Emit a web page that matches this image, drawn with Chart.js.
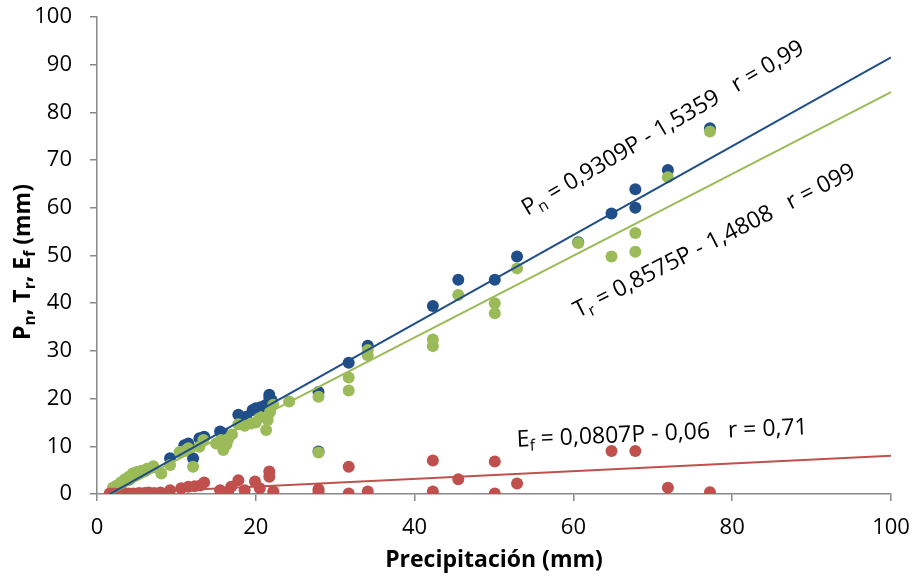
<!DOCTYPE html>
<html><head><meta charset="utf-8">
<script src="https://cdn.jsdelivr.net/npm/chart.js@4.4.1/dist/chart.umd.min.js"></script>
<style>html,body{margin:0;padding:0;background:#fff;}#wrap{width:917px;height:579px;}</style>
</head><body><div id="wrap"><canvas id="c" width="917" height="579"></canvas></div>
<script>
// ---- data ----
const pnPrecip = [77.2, 71.9, 67.8, 67.8, 64.8, 60.6, 52.9, 50.1, 45.5, 42.3, 34.1, 31.7, 27.9, 27.9, 22.0, 21.7, 21.7, 21.2, 20.6, 20.0, 19.6, 18.8, 17.8, 16.0, 15.5, 13.5, 12.9, 12.1, 11.5, 11.0, 9.2, 7.0, 6.0, 5.0, 4.0, 3.0, 2.2];
const pnValues = [76.7, 67.9, 63.9, 60.0, 58.8, 52.8, 49.8, 44.9, 44.9, 39.4, 31.1, 27.5, 21.4, 8.9, 19.6, 20.8, 20.2, 18.6, 18.2, 18.0, 17.6, 16.2, 16.6, 12.6, 13.1, 12.0, 11.7, 7.5, 10.6, 10.2, 7.5, 5.6, 4.8, 4.1, 3.0, 2.0, 1.0];

const trPrecip = [77.2, 71.9, 67.8, 67.8, 64.8, 60.6, 52.9, 50.1, 50.1, 45.5, 42.3, 42.3, 34.1, 34.1, 31.7, 31.7, 27.9, 27.9, 24.2, 22.2, 21.8, 21.5, 21.3, 20.5, 20.0, 19.4, 18.6, 17.8, 17.0, 16.5, 16.3, 15.9, 15.6, 15.0, 13.4, 12.9, 12.1, 11.5, 11.0, 10.4, 9.2, 8.1, 7.1, 6.3, 5.6, 5.0, 4.5, 4.0, 3.5, 3.0, 2.5, 2.0];
const trValues = [76.0, 66.4, 54.7, 50.8, 49.8, 52.6, 47.3, 40.0, 37.9, 41.7, 32.4, 31.0, 30.2, 29.1, 24.4, 21.7, 20.4, 8.7, 19.4, 18.7, 17.2, 15.5, 13.4, 16.2, 15.0, 14.8, 14.3, 14.6, 12.5, 11.4, 10.3, 9.2, 11.3, 10.6, 11.3, 9.9, 5.7, 9.6, 9.0, 8.8, 6.1, 4.3, 5.8, 5.3, 4.9, 4.6, 4.3, 3.6, 3.1, 2.4, 1.8, 1.3];

const efPrecip = [77.2, 71.9, 67.8, 64.8, 52.9, 50.1, 50.1, 45.5, 42.3, 42.3, 34.1, 31.7, 31.7, 27.9, 27.9, 22.2, 21.7, 21.7, 20.5, 19.9, 18.6, 17.8, 16.9, 16.5, 15.5, 13.5, 13.0, 12.3, 11.5, 10.6, 9.2, 8.0, 7.2, 6.5, 6.0, 5.3, 4.6, 4.0, 3.4, 2.8, 2.2, 1.6];
const efValues = [0.35, 1.3, 9.0, 9.0, 2.2, 6.8, 0.1, 3.1, 7.0, 0.5, 0.5, 5.7, 0.1, 0.5, 1.0, 0.5, 4.7, 3.6, 1.2, 2.6, 0.8, 2.9, 1.5, 0.4, 0.8, 2.4, 1.8, 1.6, 1.5, 1.2, 0.8, 0.3, 0.2, 0.3, 0.2, 0.2, 0.1, 0.1, 0.2, 0.1, 0.1, 0.1];

// regression equations shown on the chart
const pnFit = {slope: 0.9309, intercept: -1.5359};
const trFit = {slope: 0.8575, intercept: -1.4808};
const efFit = {slope: 0.0807, intercept: -0.06};
const fitRange = [1.5, 100];

const xTicks = {min: 0, max: 100, step: 20};
const yTicks = {min: 0, max: 100, step: 10};

const xTitle = 'Precipitación (mm)';
const yTitleParts = [{t:'P'},{t:'n',sub:true},{t:', T'},{t:'r',sub:true},{t:', E'},{t:'f',sub:true},{t:' (mm)'}];
const pnLabel = [{t:'P'},{t:'n',sub:true},{t:' = 0,9309P - 1,5359   r = 0,99'}];
const trLabel = [{t:'T'},{t:'r',sub:true},{t:' = 0,8575P - 1,4808   r = 099'}];
const efLabel = [{t:'E'},{t:'f',sub:true},{t:' = 0,0807P - 0,06   r = 0,71'}];

// ---- style ----
const FONT = "'Open Sans', 'Liberation Sans', sans-serif";
const BLUE = '#1F4E89', GREEN = '#9BBB59', RED = '#C0504D', AXIS = '#888888';

const pts = (xs, ys) => xs.map((x, i) => ({x, y: ys[i]}));
const fitLine = f => fitRange.map(x => ({x, y: f.slope * x + f.intercept}));

function richWidth(ctx, parts, size, bold) {
  let w = 0;
  for (const p of parts) {
    ctx.font = (bold ? 'bold ' : '') + (p.sub ? size * 0.68 : size) + 'px ' + FONT;
    w += ctx.measureText(p.t).width;
  }
  return w;
}
function drawRich(ctx, x, y, angle, parts, size, bold, center) {
  ctx.save();
  ctx.translate(x, y);
  ctx.rotate(-angle * Math.PI / 180);
  ctx.fillStyle = '#000';
  ctx.textBaseline = 'alphabetic';
  ctx.textAlign = 'left';
  let cx = center ? -richWidth(ctx, parts, size, bold) / 2 : 0;
  const dy = center ? size * 0.36 : 0;
  for (const p of parts) {
    const s = p.sub ? size * 0.68 : size;
    ctx.font = (bold ? 'bold ' : '') + s + 'px ' + FONT;
    ctx.fillText(p.t, cx, dy + (p.sub ? size * 0.2 : 0));
    cx += ctx.measureText(p.t).width;
  }
  ctx.restore();
}

const textPlugin = {
  id: 'texts',
  afterDatasetsDraw(chart) {
    const {ctx, scales: {x, y}, chartArea} = chart;
    drawRich(ctx, x.getPixelForValue(54.2), y.getPixelForValue(58.3), 30.5, pnLabel, 23, false, false);
    drawRich(ctx, x.getPixelForValue(60.6), y.getPixelForValue(36.9), 27, trLabel, 23, false, false);
    drawRich(ctx, x.getPixelForValue(52.9), y.getPixelForValue(9.9), 2.5, efLabel, 23, false, false);
    // axis titles
    ctx.save();
    ctx.fillStyle = '#000';
    ctx.font = 'bold 23px ' + FONT;
    ctx.textAlign = 'center';
    ctx.textBaseline = 'middle';
    ctx.fillText(xTitle, (chartArea.left + chartArea.right) / 2, 560);
    ctx.restore();
    drawRich(ctx, 22, 262, 90, yTitleParts, 23, true, true);
  }
};

const axisGrid = {drawOnChartArea: false, drawTicks: true, tickLength: 7, color: AXIS, lineWidth: 1.5};
const tickFont = {family: FONT, size: 22};

new Chart(document.getElementById('c'), {
  type: 'scatter',
  data: {
    datasets: [
      {type: 'line', data: fitLine(pnFit), borderColor: BLUE, borderWidth: 2, pointRadius: 0, fill: false, order: 0},
      {type: 'line', data: fitLine(trFit), borderColor: GREEN, borderWidth: 2, pointRadius: 0, fill: false, order: 0},
      {type: 'line', data: fitLine(efFit), borderColor: RED, borderWidth: 2, pointRadius: 0, fill: false, order: 0},
      {label: 'Ef', data: pts(efPrecip, efValues), backgroundColor: RED, borderColor: RED, pointRadius: 6, borderWidth: 0, order: 1},
      {label: 'Tr', data: pts(trPrecip, trValues), backgroundColor: GREEN, borderColor: GREEN, pointRadius: 6, borderWidth: 0, order: 2},
      {label: 'Pn', data: pts(pnPrecip, pnValues), backgroundColor: BLUE, borderColor: BLUE, pointRadius: 6, borderWidth: 0, order: 3}
    ]
  },
  options: {
    responsive: false,
    animation: false,
    layout: {padding: {left: 0, right: 26, top: 17, bottom: 0}},
    plugins: {legend: {display: false}, tooltip: {enabled: false}},
    scales: {
      x: {
        type: 'linear', min: xTicks.min, max: xTicks.max,
        ticks: {stepSize: xTicks.step, font: tickFont, color: '#000', padding: 14, maxRotation: 0},
        grid: axisGrid, border: {color: AXIS, width: 1.5},
        afterFit(s) { s.height = 85; s.paddingLeft = 0; s.paddingRight = 0; }
      },
      y: {
        type: 'linear', min: yTicks.min, max: yTicks.max,
        ticks: {stepSize: yTicks.step, font: tickFont, color: '#000', padding: 18},
        grid: axisGrid, border: {color: AXIS, width: 1.5},
        afterFit(s) { s.width = 97; s.paddingTop = 0; s.paddingBottom = 0; }
      }
    }
  },
  plugins: [textPlugin]
});
</script>
</body></html>
